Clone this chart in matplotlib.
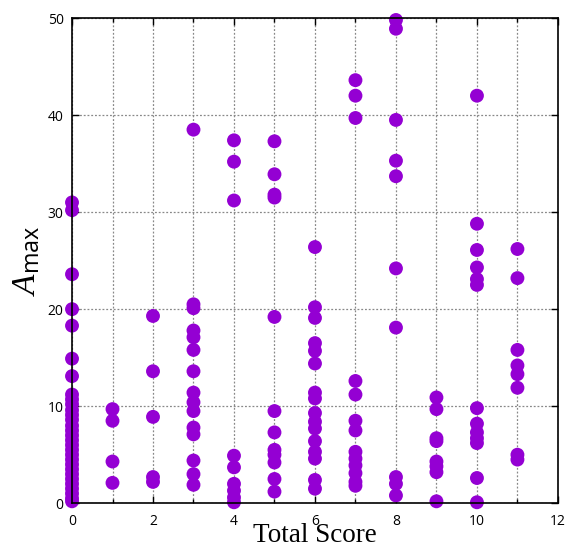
import numpy as np
import matplotlib
matplotlib.use("Agg")
import matplotlib.pyplot as plt
from matplotlib.ticker import MultipleLocator

# values, one list per Total Score column
score_0 = [31.0, 30.2, 23.6, 20.0, 18.3, 14.9, 13.1, 11.2, 10.7, 10.2, 9.6, 9.1,
           8.6, 8.0, 7.5, 7.0, 6.5, 6.0, 5.5, 5.0, 4.5, 4.0, 3.5, 3.0, 2.5, 2.0,
           1.5, 1.0, 0.5, 0.2]
score_1 = [9.7, 8.5, 4.3, 2.1]
score_2 = [19.3, 13.6, 8.9, 2.7, 2.2]
score_3 = [38.5, 20.5, 20.1, 17.8, 17.1, 15.8, 13.6, 11.4, 10.4, 9.5, 7.8, 7.1,
           4.4, 3.0, 1.9]
score_4 = [37.4, 35.2, 31.2, 4.9, 3.7, 2.0, 1.3, 0.6, 0.1]
score_5 = [37.3, 33.9, 31.8, 31.5, 19.2, 9.5, 7.3, 5.5, 5.0, 4.2, 2.5, 1.2]
score_6 = [26.4, 20.2, 19.1, 16.5, 15.7, 14.4, 11.4, 10.8, 9.3, 8.4, 7.7, 6.4,
           5.3, 4.6, 2.4, 1.5]
score_7 = [43.6, 42.0, 39.7, 12.6, 11.2, 8.5, 7.5, 5.3, 4.6, 3.9, 3.1, 2.2, 1.8]
score_8 = [49.8, 48.9, 39.5, 35.3, 33.7, 24.2, 18.1, 2.7, 2.0, 0.8]
score_9 = [10.9, 9.7, 6.7, 6.4, 4.3, 3.8, 3.2, 0.2]
score_10 = [42.0, 28.8, 26.1, 24.3, 23.1, 22.5, 9.8, 8.2, 7.3, 6.7, 6.2, 2.6, 0.1]
score_11 = [26.2, 23.2, 15.8, 14.2, 13.3, 11.9, 5.0, 4.5]

columns = [score_0, score_1, score_2, score_3, score_4, score_5, score_6,
           score_7, score_8, score_9, score_10, score_11]
x_ticks = [0, 2, 4, 6, 8, 10, 12]
y_ticks = [0, 10, 20, 30, 40, 50]

xs = np.concatenate([[i] * len(c) for i, c in enumerate(columns)])
ys = np.concatenate(columns)

# italic serif A, upright sans subscript
plt.rcParams["mathtext.fontset"] = "custom"
plt.rcParams["mathtext.it"] = "Liberation Serif:italic"
plt.rcParams["mathtext.rm"] = "Liberation Serif"
plt.rcParams["mathtext.sf"] = "Open Sans"

fig = plt.figure(figsize=(5.67, 5.47), dpi=100)
ax = fig.add_axes([0.127, 0.080, 0.857, 0.887])

ax.scatter(xs, ys, s=100, color="#9400D3", edgecolors="none", clip_on=False, zorder=2)

ax.set_xlim(0, 12)
ax.set_ylim(0, 50)
ax.set_xticks(x_ticks)
ax.set_yticks(y_ticks)
ax.xaxis.set_minor_locator(MultipleLocator(1))

ax.grid(True, which="both", axis="x", linestyle=(0, (1.5, 1.5)), color="#888888", linewidth=0.9)
ax.grid(True, which="major", axis="y", linestyle=(0, (1.5, 1.5)), color="#888888", linewidth=0.9)
ax.set_axisbelow(True)

ax.tick_params(which="both", direction="in", top=True, right=True,
               labelsize=10, length=5, width=1)
ax.tick_params(which="minor", length=3)
ax.tick_params(axis="x", pad=8)
ax.tick_params(axis="y", pad=6)
for lbl in ax.get_xticklabels() + ax.get_yticklabels():
    lbl.set_fontfamily("Open Sans")

for sp in ax.spines.values():
    sp.set_linewidth(1.2)
    sp.set_zorder(3)

ax.set_xlabel("Total Score", fontfamily="Liberation Serif", fontsize=19.5, va="baseline")
ax.xaxis.set_label_coords(0.5, -0.079)
ax.set_ylabel(r"$A_{\mathsf{max}}$", fontsize=24, labelpad=4)

fig.savefig("out.png", dpi=100)
